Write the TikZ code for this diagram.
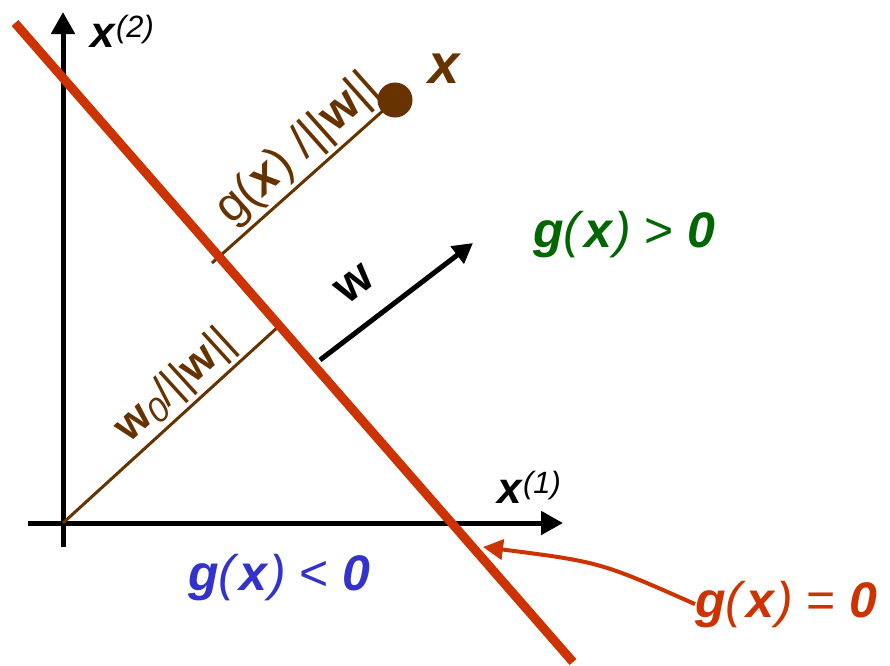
\documentclass[tikz,border=0pt]{standalone}
\usepackage{fontspec}
\setmainfont{Liberation Sans}
\usepackage{tikz}
\usetikzlibrary{arrows.meta}
\definecolor{sepred}{HTML}{CC3300}
\definecolor{distbrown}{HTML}{663300}
\definecolor{posgreen}{HTML}{006600}
\definecolor{negblue}{HTML}{3333CC}
\newcommand{\bix}[1]{\textbf{\textit{#1}}}
\newcommand{\gofx}{\bix{g}\textit{(}\bix{x}\textit{)}}

\begin{document}
\begin{tikzpicture}[x=1pt, y=-1pt,
  axis/.style={line width=5pt, -{Triangle[length=22pt,width=23pt]}},
  dist/.style={distbrown, line width=3pt},
  big/.style={inner sep=0pt, font=\fontsize{50}{60}\selectfont},
  mid/.style={inner sep=0pt, font=\fontsize{44}{50}\selectfont}]
  \useasboundingbox (0,0) rectangle (890,665);
  % axes
  \coordinate (O) at (63,523);
  \coordinate (xlo) at (28,523);
  \coordinate (xhi) at (563,523);
  \coordinate (ylo) at (63,547);
  \coordinate (yhi) at (63,12);
  \draw[axis] (xlo) -- (xhi);
  \draw[axis] (ylo) -- (yhi);
  \node[mid, anchor=base west] (xone) at (497,503) {\bix{x}\textsuperscript{\textit{(1)}}};
  \node[mid, anchor=base west] (xtwo) at (90,47) {\bix{x}\textsuperscript{\textit{(2)}}};
  % distances
  \coordinate (wfoot) at (279,326);
  \coordinate (gfoot) at (212,263);
  \node[circle, fill=distbrown, inner sep=0pt, minimum size=35pt] (pt) at (395,100) {};
  \node[distbrown, inner sep=0pt, font=\fontsize{56}{60}\selectfont, anchor=base west] (ptlabel) at (428,83) {\bix{x}};
  \draw[dist] (O) -- node[pos=0.6, sloped, above=3pt, mid] (wzero) {\textbf{w}\raisebox{-0.3ex}{\fontsize{34}{40}\selectfont\textit{0}}/||\textbf{w}||} (wfoot);
  \draw[dist] (gfoot) -- node[pos=0.57, sloped, above=3pt, mid, font=\fontsize{48}{54}\selectfont] (gdist) {g(\bix{x}) /||\textbf{w}||} (pt.center);
  % normal vector
  \coordinate (wtail) at (320,360);
  \coordinate (whead) at (473,243);
  \draw[line width=5pt, -{Triangle[length=20pt,width=21pt]}] (wtail) -- node[pos=0.38, sloped, above=24pt, mid, font=\fontsize{48}{54}\selectfont] (wlabel) {\textbf{w}} (whead);
  % decision boundary
  \coordinate (bstart) at (15,23);
  \coordinate (bend) at (573,662);
  \draw[sepred, line width=9pt] (bstart) -- (bend);
  \node[posgreen, big, anchor=base west] (pos) at (533,247) {\gofx{} > \bix{0}};
  \node[negblue, big, anchor=base west] (neg) at (188,590) {\gofx{} < \bix{0}};
  \node[sepred, big, anchor=base west] (zero) at (695,617) {\gofx{} = \bix{0}};
  \coordinate (hit) at (483,547);
  \draw[sepred, line width=4pt, -{Triangle[length=20pt,width=20pt]}] (zero.west) .. controls (600,562) .. (hit);
\end{tikzpicture}
\end{document}
